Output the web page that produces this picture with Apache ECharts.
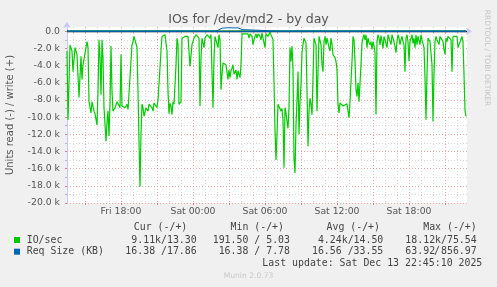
<!DOCTYPE html>
<html><head><meta charset="utf-8">
<script src="https://cdn.jsdelivr.net/npm/echarts@6/dist/echarts.min.js"></script>
<style>html,body{margin:0;padding:0;background:#f0f0f0;}#c{width:497px;height:287px;}</style>
</head><body><div id="c"></div>
<script>
// ---- data (5-minute steps since Fri 13:30) ----
const stepMinutes = 5;
const startMinute = 13 * 60 + 30; // Fri 13:30
const stepCount = 401;
const dayNames = ['Fri', 'Sat'];

// read IO/sec (k), drawn negative
const readStep = [0,1,3,5,6,8,9,10,12,14,15,16,20,21,22,24,25,27,28,30,31,32,33,34,35,36,37,39,40,41,42,43,44,45,46,48,50,51,53,54,55,56,58,60,61,63,65,66,67,69,70,71,72,73,74,75,76,77,79,80,81,82,84,85,86,87,89,90,91,92,93,94,95,97,98,99,100,101,102,103,104,105,106,107,108,109,110,111,112,114,115,116,118,120,121,123,124,125,126,127,128,129,130,132,133,134,135,136,137,138,140,141,142,143,144,145,146,147,148,149,150,151,152,153,154,155,156,157,158,159,160,161,162,163,164,165,166,167,169,170,171,172,173,174,175,176,178,179,181,182,183,185,186,187,188,189,190,191,193,194,195,197,198,199,200,201,203,205,206,207,208,209,210,211,213,214,215,216,217,218,219,220,221,222,223,224,225,226,227,228,229,230,231,232,233,234,235,236,237,238,239,240,241,242,243,244,245,246,247,248,249,250,251,252,253,254,255,256,257,258,259,260,261,262,263,264,265,266,267,268,269,270,271,272,273,275,276,278,280,281,282,283,285,286,287,288,289,290,291,292,293,294,295,296,297,298,299,300,301,302,303,304,305,306,307,308,309,310,311,312,313,314,315,316,317,318,319,320,321,322,323,324,325,326,328,329,330,331,332,333,334,335,336,337,338,339,340,341,342,343,344,345,346,347,348,349,350,351,352,353,354,355,356,357,358,359,360,361,362,363,364,365,366,367,368,369,370,371,372,373,374,375,376,377,378,379,380,381,382,383,384,385,386,388,390,391,393,395,396,397,398,399];
const readKOps = [2.3,10.3,1.6,2.3,4.7,1.9,1.75,2.7,7.7,2.9,5.6,3.9,1.2,1.9,8.2,9.5,8.2,9.3,9.6,10.9,7.0,1.0,3.1,7.4,1.0,3.1,8.9,12.8,10.5,9.3,12.2,8.5,1.7,7.0,9.3,8.9,8.2,8.35,8.9,2.7,8.7,8.5,8.9,8.5,9.1,8.9,1.6,1.2,0.6,0.6,1.9,7.0,12.8,18.1,12.0,8.5,8.9,9.9,8.9,8.7,9.3,8.5,8.7,8.9,9.3,8.35,8.2,8.9,8.0,8.0,7.8,2.3,0.6,0.6,0.4,0.3,2.3,7.0,9.6,8.4,8.7,9.7,8.2,8.5,8.7,3.9,0.8,1.55,8.5,8.2,0.8,0.75,0.6,0.8,0.6,4.1,4.3,1.55,1.4,0.8,1.0,0.4,0.6,0.8,8.7,3.1,0.8,1.0,1.9,0.8,0.4,0.6,0.6,0.8,0.4,4.7,8.9,3.1,0.6,0.6,0.8,1.9,0.4,1.0,6.8,5.0,3.7,3.7,3.7,3.9,4.1,5.6,4.5,5.4,4.6,4.3,3.9,5.0,4.5,5.6,4.6,5.0,5.4,3.9,0.3,0.2,0.3,0.2,0.3,0.8,0.3,0.6,1.55,1.0,0.6,0.3,0.8,0.3,0.6,1.0,0.2,0.3,1.9,0.3,0.2,0.6,0.1,0.3,1.0,6.0,11.5,15.0,12.0,8.5,8.5,9.3,9.0,10.3,15.9,8.9,9.5,10.5,11.3,8.9,1.9,3.5,1.75,4.3,14.8,16.5,10.9,8.0,4.7,12.0,8.2,6.2,2.5,1.55,0.8,1.0,1.35,7.0,13.4,9.3,7.8,8.5,9.7,5.4,0.8,0.6,1.55,9.3,4.7,0.6,0.4,1.55,3.9,4.7,1.2,0.6,1.55,0.8,1.0,1.9,2.3,0.8,1.55,2.7,2.5,3.1,3.5,4.5,8.5,9.5,8.35,8.5,8.7,8.5,8.45,8.35,10.1,8.2,3.5,0.6,1.0,3.5,6.8,7.6,6.0,8.2,8.0,3.9,1.35,0.8,0.4,1.0,0.4,1.9,0.8,1.3,1.55,1.2,2.1,1.2,1.7,2.5,9.7,1.2,0.4,0.8,1.6,0.5,1.2,2.0,0.6,1.0,0.9,1.9,0.4,0.8,0.8,1.55,0.4,0.8,1.75,2.5,1.2,0.4,0.8,1.55,1.0,0.6,1.2,1.55,4.7,0.8,0.4,1.2,3.5,1.2,0.8,0.4,1.4,0.8,1.9,0.4,1.55,0.6,0.8,1.55,0.4,1.0,0.8,1.9,5.4,10.3,5.0,0.8,0.6,1.2,1.0,3.9,10.5,5.0,1.2,0.6,1.0,0.8,1.55,0.6,0.8,0.4,1.2,2.1,2.7,0.8,1.2,0.6,0.8,0.4,1.0,4.7,0.6,0.4,0.6,1.9,1.8,0.6,1.3,5.0,9.2,9.9];

// write IO/sec
const writeStep = [0, 60, 120, 180, 240, 300, 360, 399];
const writeOps = [12, 15, 11, 18, 14, 16, 12, 13];

// request size (KB): read drawn negative, write positive
const reqReadStep = [0, 60, 120, 180, 240, 300, 360, 399];
const reqReadKB = [16.4, 16.6, 16.5, 16.7, 16.4, 16.6, 16.5, 16.4];
const reqWriteStep = [0, 30, 60, 90, 120, 148, 151, 153, 155, 157, 159, 161, 163, 165, 167, 169, 171, 173, 175, 177, 210, 240, 270, 300, 330, 360, 399];
const reqWriteKB = [22, 30, 25, 28, 35, 30, 120, 280, 360, 330, 400, 370, 410, 340, 390, 350, 400, 360, 200, 30, 25, 40, 28, 33, 26, 30, 18];

// y ticks
const yMin = -20000, yMax = 500, yMinor = 1000, yMajor = 2000;

// legend table
const legendHeaders = ['Cur (-/+)', 'Min (-/+)', 'Avg (-/+)', 'Max (-/+)'];
const legendRows = [
  { name: 'IO/sec', color: '#00CC00', vals: ['9.11k/13.30', '191.50 / 5.03', '4.24k/14.50', '18.12k/75.54'] },
  { name: 'Req Size (KB)', color: '#0066B3', vals: ['16.38 /17.86', '16.38 / 7.78', '16.56 /33.55', '63.92 856.97'] }
];
const lastUpdate = 'Last update: Sat Dec 13 22:45:10 2025';

// ---- build ----
const pad = n => (n < 10 ? '0' : '') + n;
const categories = [];
for (let s = 0; s < stepCount; s++) {
  const m = startMinute + s * stepMinutes;
  categories.push(dayNames[Math.floor(m / 1440)] + ' ' + pad(Math.floor((m % 1440) / 60)) + ':' + pad(m % 60));
}
const isHour = (i) => categories[i].endsWith(':00');
const isMajor = (i) => isHour(i) && (parseInt(categories[i].slice(4, 6), 10) % 3 === 0);
const isLabel = (i) => isHour(i) && (parseInt(categories[i].slice(4, 6), 10) % 6 === 0);

const readData = readStep.map((s, i) => [s, -readKOps[i] * 1000]);
const writeData = writeStep.map((s, i) => [s, writeOps[i]]);
const reqReadData = reqReadStep.map((s, i) => [s, -reqReadKB[i]]);
const reqWriteData = reqWriteStep.map((s, i) => [s, reqWriteKB[i]]);

const L = 67, R = 30, T = 27, B = 84;
const plotH = 287 - T - B;
const zeroTop = T + plotH * (yMax - 0) / (yMax - yMin);

const axisBlue = '#c4c8f8';
const minorCol = '#d8d8d8';
const majorCol = '#f0a8a8';
const txt = '#555';
const mono = '"DejaVu Sans Mono", monospace';
const sans = '"DejaVu Sans", sans-serif';

const chart = echarts.init(document.getElementById('c'), null, { renderer: 'canvas' });

const graphics = [
  { type: 'text', x: 248.5, y: 19.5, style: { text: 'IOs for /dev/md2 - by day', font: '12.6px ' + sans, fill: txt, textAlign: 'center', textVerticalAlign: 'middle' } },
  { type: 'text', x: 10, y: 115, rotation: Math.PI / 2, style: { text: 'Units read (-) / write (+)', font: '10px ' + sans, fill: txt, textAlign: 'center', textVerticalAlign: 'middle' } },
  { type: 'text', x: 487, y: 58, rotation: -Math.PI / 2, style: { text: 'RRDTOOL / TOBI OETIKER', font: '7.5px ' + sans, fill: '#c4c4c4', textAlign: 'center', textVerticalAlign: 'middle' } },
  { type: 'text', x: 248.5, y: 276, style: { text: 'Munin 2.0.73', font: '7.6px ' + sans, fill: '#c8c8c8', textAlign: 'center', textVerticalAlign: 'middle' } },
  { type: 'text', x: 482.3, y: 263.3, style: { text: lastUpdate, font: '9.9px ' + mono, fill: '#444', textAlign: 'right', textVerticalAlign: 'middle' } }
];
const headerRight = [187.3, 284, 380, 476.7];
const colRight = [196.7, 290, 383.3, 476.7];
legendHeaders.forEach((h, i) => graphics.push({ type: 'text', x: headerRight[i], y: 227.7, style: { text: h, font: '9.9px ' + mono, fill: '#444', textAlign: 'right', textVerticalAlign: 'middle' } }));
legendRows.forEach((row, r) => {
  const y = 240 + r * 11.7;
  graphics.push({ type: 'rect', shape: { x: 14, y: y - 3, width: 6, height: 6 }, style: { fill: row.color } });
  graphics.push({ type: 'text', x: 26.7, y: y, style: { text: row.name, font: '9.9px ' + mono, fill: '#444', textAlign: 'left', textVerticalAlign: 'middle' } });
  row.vals.forEach((v, i) => graphics.push({ type: 'text', x: colRight[i], y: y, style: { text: v, font: '9.9px ' + mono, fill: '#444', textAlign: 'right', textVerticalAlign: 'middle' } }));
});
graphics.push({ type: 'text', x: 437, y: 251.7, style: { text: '/', font: '9.9px ' + mono, fill: '#444', textAlign: 'center', textVerticalAlign: 'middle' } });

const option = {
  animation: false,
  backgroundColor: '#f0f0f0',
  grid: [
    { left: L, right: R, top: T, bottom: B, show: true, backgroundColor: '#ffffff', borderWidth: 0 },
    { left: L, right: R, top: zeroTop, bottom: B, show: false }
  ],
  xAxis: [
    { type: 'category', gridIndex: 0, data: categories, boundaryGap: false,
      axisLine: { show: true, lineStyle: { color: axisBlue, width: 1 }, symbol: ['none', 'arrow'], symbolSize: [6, 6], symbolOffset: [0, 5] },
      axisTick: { show: true, length: 2, interval: (i) => isHour(i), lineStyle: { color: '#bbbbbb' } },
      axisLabel: { show: false },
      splitLine: { show: true, interval: (i) => isHour(i), lineStyle: { color: minorCol, type: [1, 2], width: 1 } } },
    { type: 'category', gridIndex: 0, data: categories, boundaryGap: false, position: 'bottom',
      axisLine: { show: false },
      axisTick: { show: true, length: 2, interval: (i) => isMajor(i), lineStyle: { color: '#e08080' } },
      axisLabel: { show: true, interval: (i) => isLabel(i), color: txt, fontSize: 9.3, fontFamily: sans, margin: 4 },
      splitLine: { show: true, interval: (i) => isMajor(i), lineStyle: { color: majorCol, type: [1, 2], width: 1 } } },
    { type: 'value', gridIndex: 1, min: 0, max: 1, show: false }
  ],
  yAxis: [
    { type: 'value', gridIndex: 0, min: yMin, max: yMax, position: 'left',
      axisLine: { show: true, lineStyle: { color: axisBlue, width: 1 }, symbol: ['none', 'arrow'], symbolSize: [6, 6], symbolOffset: [0, 5] },
      axisTick: { show: false }, axisLabel: { show: false }, splitLine: { show: false } },
    { type: 'value', gridIndex: 1, min: yMin, max: 0, interval: yMinor, position: 'left',
      axisLine: { show: false }, axisTick: { show: true, length: 2, lineStyle: { color: '#bbbbbb' } },
      axisLabel: { show: false },
      splitLine: { show: true, lineStyle: { color: minorCol, type: [1, 2], width: 1 } } },
    { type: 'value', gridIndex: 1, min: yMin, max: 0, interval: yMajor, position: 'left',
      axisLine: { show: false }, axisTick: { show: true, length: 2, lineStyle: { color: '#e08080' } },
      axisLabel: { show: true, color: txt, fontSize: 9.3, fontFamily: sans, margin: 7,
        formatter: (v) => v === 0 ? '0.0' : (v / 1000).toFixed(1) + ' k' },
      splitLine: { show: true, lineStyle: { color: majorCol, type: [1, 2], width: 1 } } }
  ],
  series: [
    { type: 'line', name: 'IO/sec read', xAxisIndex: 0, yAxisIndex: 0, data: readData, showSymbol: false, symbol: 'none',
      lineStyle: { color: '#00CC00', width: 1.2 }, z: 3 },
    { type: 'line', name: 'IO/sec write', xAxisIndex: 0, yAxisIndex: 0, data: writeData, showSymbol: false, symbol: 'none',
      lineStyle: { color: '#00CC00', width: 1.2 }, z: 3 },
    { type: 'line', name: 'zero', xAxisIndex: 0, yAxisIndex: 0, data: [], z: 4,
      markLine: { silent: true, symbol: 'none', label: { show: false }, lineStyle: { color: '#000000', width: 1.3, type: 'solid' }, data: [{ yAxis: 0 }] } },
    { type: 'line', name: 'Req read', xAxisIndex: 0, yAxisIndex: 0, data: reqReadData, showSymbol: false, symbol: 'none',
      lineStyle: { color: '#0066B3', width: 1 }, z: 5 },
    { type: 'line', name: 'Req write', xAxisIndex: 0, yAxisIndex: 0, data: reqWriteData, showSymbol: false, symbol: 'none',
      lineStyle: { color: '#0066B3', width: 1 }, z: 5 }
  ],
  graphic: { elements: graphics }
};
chart.setOption(option);
</script>
</body></html>
